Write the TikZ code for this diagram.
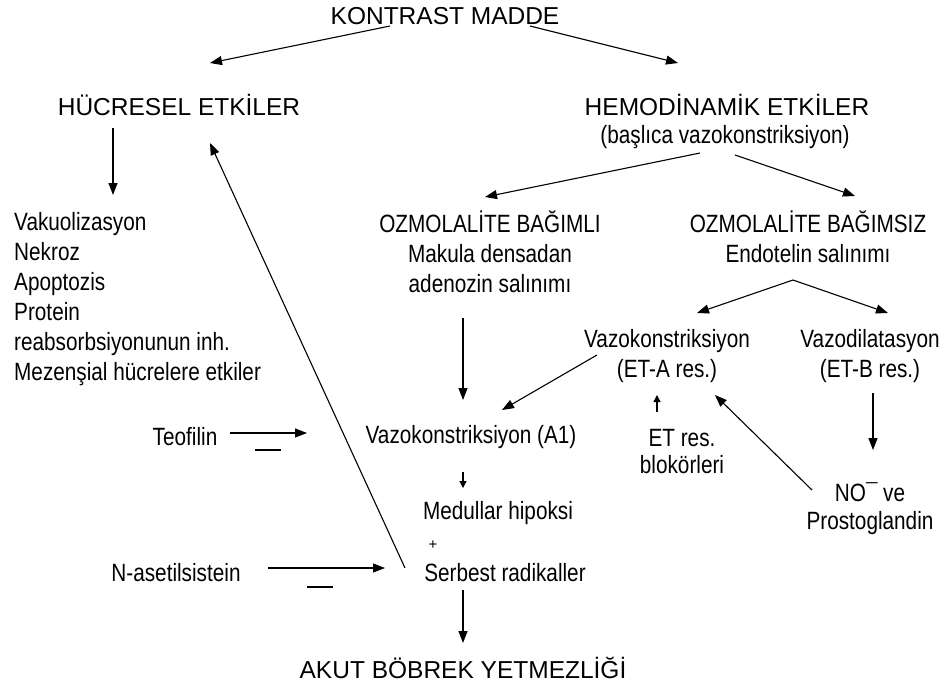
\documentclass[tikz,border=0pt]{standalone}
\usepackage{fontspec}
\setmainfont{Liberation Sans}
\newfontfamily\narrowsans{Liberation Sans}[FakeStretch=0.83]
\usetikzlibrary{arrows.meta}
\tikzset{
  lbl/.style={inner sep=0pt,align=center,font=\fontsize{25}{30}\narrowsans},
  head/.style={lbl,font=\fontsize{24.5}{30}\selectfont},
  arr/.style={line width=1.1pt,-{Triangle[length=12pt,width=9pt]}},
  tiny arr/.style={line width=1.1pt,-{Triangle[length=7pt,width=7pt]}},
  minus/.style={line width=1.1pt},
}

\begin{document}
\begin{tikzpicture}[x=1pt,y=-1pt]
\useasboundingbox (0,0) rectangle (946,686);
% headings
\node[head] (kontrast) at (445,16) {KONTRAST MADDE};
\node[head] (hucre) at (179,105) {HÜCRESEL ETKİLER};
\node[head] (hemo) at (727,105) {HEMODİNAMİK ETKİLER};
\node[lbl] (hemosub) at (725,137) {(başlıca vazokonstriksiyon)};
\node[head] (akut) at (463,668) {AKUT BÖBREK YETMEZLİĞİ};
% left column
\node[lbl,align=left,anchor=north west] (liste) at (14,212)
  {Vakuolizasyon\\Nekroz\\Apoptozis\\Protein\\reabsorbsiyonunun inh.\\Mezenşial hücrelere etkiler};
\node[lbl] (teofilin) at (185,437) {Teofilin};
\node[lbl] (nacet) at (176,573) {N-asetilsistein};
% middle
\node[lbl] (bagimli) at (490,252) {OZMOLALİTE BAĞIMLI\\Makula densadan\\adenozin salınımı};
\node[lbl] (a1) at (471,437) {Vazokonstriksiyon (A1)};
\node[lbl] (medullar) at (498,513) {Medullar hipoksi};
\node[lbl,font=\fontsize{15}{15}\selectfont] (arti) at (433,545) {+};
\node[lbl] (serbest) at (505,573) {Serbest radikaller};
% right
\node[lbl] (bagimsiz) at (808,237) {OZMOLALİTE BAĞIMSIZ\\Endotelin salınımı};
\node[lbl] (etA) at (667,356) {Vazokonstriksiyon\\(ET-A res.)};
\node[lbl] (etB) at (870,356) {Vazodilatasyon\\(ET-B res.)};
\node[lbl] (blok) at (682,452) {ET res.\\[-3pt]blokörleri};
\node[lbl] (no) at (870,509) {NO¯ ve\\[-2pt]Prostoglandin};

% arrows
\draw[arr] ([shift={(-55,10)}]kontrast.center) -- ([shift={(31,-42)}]hucre.center);
\draw[arr] ([shift={(85,10)}]kontrast.center) -- ([shift={(-49,-42)}]hemo.center);
\draw[arr] ([shift={(-66,23)}]hucre.center) -- ([shift={(99,-17)}]liste.north west);
\draw[arr] ([shift={(-100,-5)}]serbest.center) -- ([shift={(31,38)}]hucre.center);
\draw[arr] ([shift={(-25,16)}]hemosub.center) -- ([shift={(-5,-55)}]bagimli.center);
\draw[arr] ([shift={(10,18)}]hemosub.center) -- ([shift={(47,-41)}]bagimsiz.center);
\draw[arr] ([shift={(-27,66)}]bagimli.center) -- ([shift={(-8,-37)}]a1.center);
\draw[arr] ([shift={(-15,43)}]bagimsiz.center) -- ([shift={(30,-43)}]etA.center);
\draw[arr] ([shift={(-15,43)}]bagimsiz.center) -- ([shift={(18,-43)}]etB.center);
\draw[arr] ([shift={(-70,-1)}]etA.center) -- ([shift={(31,-27)}]a1.center);
\draw[tiny arr] ([shift={(-25,-40)}]blok.center) -- ([shift={(-10,39)}]etA.center);
\draw[arr] ([shift={(3,37)}]etB.center) -- ([shift={(3,-59)}]no.center);
\draw[arr] ([shift={(-58,-19)}]no.center) -- ([shift={(48,39)}]etA.center);
\draw[arr] ([shift={(45,-4)}]teofilin.center) -- ([shift={(-164,-4)}]a1.center);
\draw[minus] ([shift={(70,13)}]teofilin.center) -- ++(26,0);
\draw[tiny arr] ([shift={(-8,35)}]a1.center) -- ([shift={(-35,-25)}]medullar.center);
\draw[arr] ([shift={(92,-5)}]nacet.center) -- ([shift={(-120,-5)}]serbest.center);
\draw[minus] ([shift={(131,14)}]nacet.center) -- ++(26,0);
\draw[arr] ([shift={(-42,17)}]serbest.center) -- ([shift={(0,-25)}]akut.center);
\end{tikzpicture}
\end{document}
